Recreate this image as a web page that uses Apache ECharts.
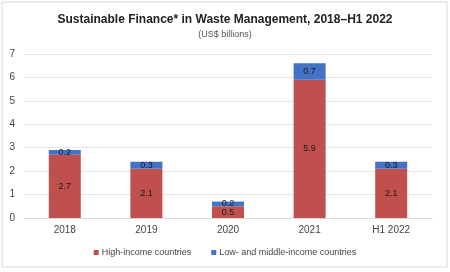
<!DOCTYPE html>
<html>
<head>
<meta charset="utf-8">
<script src="https://cdn.jsdelivr.net/npm/echarts@6/dist/echarts.min.js"></script>
<style>
  html, body { margin: 0; padding: 0; background: #fff; }
  #chart { width: 450px; height: 272px; }
</style>
</head>
<body>
<div id="chart"></div>
<script>
var categories = ['2018', '2019', '2020', '2021', 'H1 2022'];
var highIncome = [2.7, 2.1, 0.5, 5.9, 2.1];
var lowMiddleIncome = [0.2, 0.3, 0.2, 0.7, 0.3];
var yTicks = [0, 1, 2, 3, 4, 5, 6, 7];

var myChart = echarts.init(document.getElementById('chart'));

var labelStyle = {
    show: true,
    position: 'inside',
    color: '#1a1a1a',
    fontSize: 9,
    fontFamily: 'Liberation Sans, Arial, sans-serif'
};

var option = {
    animation: false,
    title: {
        text: 'Sustainable Finance* in Waste Management, 2018\u2013H1 2022',
        subtext: '(US$ billions)',
        left: 'center',
        top: 9,
        itemGap: 4,
        textStyle: {
            color: '#222',
            fontWeight: 'bold',
            fontSize: 12,
            fontFamily: 'Liberation Sans, Arial, sans-serif'
        },
        subtextStyle: {
            color: '#555',
            fontSize: 9,
            fontFamily: 'Liberation Sans, Arial, sans-serif'
        }
    },
    graphic: [{
        type: 'rect',
        shape: { x: 2, y: 2, width: 445, height: 265 },
        style: { fill: 'none', stroke: '#d9d9d9', lineWidth: 1 },
        z: -1
    }],
    legend: {
        bottom: 10,
        left: 'center',
        itemWidth: 5,
        itemHeight: 5,
        itemGap: 20,
        icon: 'rect',
        textStyle: {
            color: '#444',
            fontSize: 9,
            fontFamily: 'Liberation Sans, Arial, sans-serif',
            padding: [0, 0, 0, -2]
        },
        data: ['High-income countries', 'Low- and middle-income countries']
    },
    grid: {
        left: 24,
        right: 18,
        top: 54,
        bottom: 54
    },
    xAxis: {
        type: 'category',
        data: categories,
        axisTick: { show: false },
        axisLine: { show: true, lineStyle: { color: '#d9d9d9' } },
        axisLabel: {
            color: '#444',
            fontSize: 10,
            margin: 7,
            fontFamily: 'Liberation Sans, Arial, sans-serif'
        }
    },
    yAxis: {
        type: 'value',
        min: yTicks[0],
        max: yTicks[yTicks.length - 1],
        interval: 1,
        axisLine: { show: false },
        axisTick: { show: false },
        splitLine: { lineStyle: { color: '#e4e4e4', width: 1 } },
        axisLabel: {
            color: '#444',
            fontSize: 10,
            margin: 9,
            fontFamily: 'Liberation Sans, Arial, sans-serif'
        }
    },
    series: [
        {
            name: 'High-income countries',
            type: 'bar',
            stack: 'total',
            barWidth: 32,
            data: highIncome,
            itemStyle: { color: '#c0504d' },
            label: labelStyle
        },
        {
            name: 'Low- and middle-income countries',
            type: 'bar',
            stack: 'total',
            barWidth: 32,
            data: lowMiddleIncome,
            itemStyle: { color: '#4472c4' },
            label: labelStyle
        }
    ]
};

myChart.setOption(option);
</script>
</body>
</html>
